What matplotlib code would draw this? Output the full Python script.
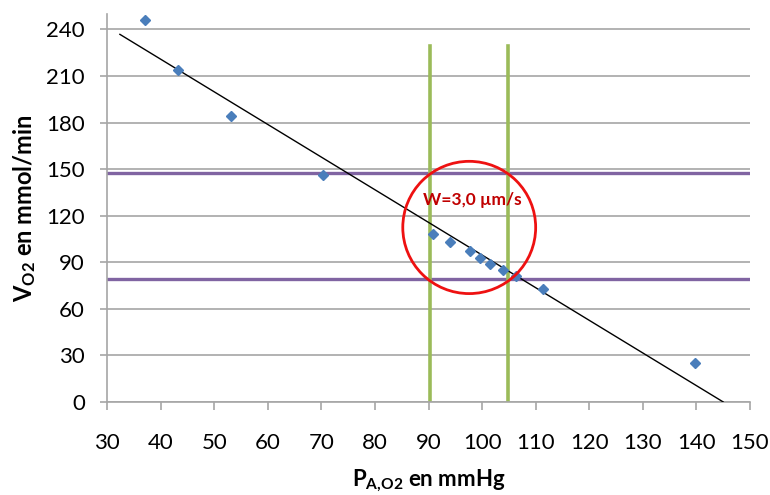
import matplotlib
matplotlib.use("Agg")
import matplotlib.pyplot as plt
from matplotlib.patches import Ellipse

plt.rcParams['font.family'] = ['Lato', 'DejaVu Sans']
plt.rcParams['mathtext.fontset'] = 'custom'
plt.rcParams['mathtext.rm'] = 'Lato'
plt.rcParams['mathtext.bf'] = 'Lato:bold'
plt.rcParams['mathtext.it'] = 'Lato:italic'

# data
pao2 = [37.1, 43.2, 53.1, 70.3, 90.8, 94.0, 97.7, 99.6, 101.5, 103.9, 106.3, 111.3, 139.7]
vo2 = [246, 214, 184.5, 146, 108.4, 103, 97, 93, 89, 85, 81, 73, 25]
trend_x = [32.4, 145.0]
trend_y = [236.8, 0.0]
hlines_y = [147.5, 79.4]
vlines_x = [90.3, 104.8]
vline_top = 229
circle_center = (97.6, 112.4)
circle_size = (24.8, 85.2)
annot_text = "W=3,0 µm/s"
xticks = list(range(30, 151, 10))
yticks = list(range(0, 241, 30))

fig = plt.figure(figsize=(7.7, 4.95), dpi=100)
ax = fig.add_axes([0.139, 0.188, 0.835, 0.784])
ax.set_xlim(30, 150)
ax.set_ylim(0, 250)

ax.set_yticks(yticks)
ax.set_xticks(xticks)
ax.yaxis.grid(True, color='#a6a6a6', linewidth=1.2)
ax.set_axisbelow(True)
for s in ['top', 'right']:
    ax.spines[s].set_visible(False)
for s in ['left', 'bottom']:
    ax.spines[s].set_color('#a6a6a6')
    ax.spines[s].set_linewidth(1.2)
ax.tick_params(axis='x', direction='out', length=5.5, width=1.2, color='#a6a6a6', pad=17, labelsize=16)
ax.tick_params(axis='y', direction='out', length=5, width=1.2, color='#a6a6a6', pad=11, labelsize=16)

for y in hlines_y:
    ax.axhline(y, color='#8064a2', linewidth=2.4, zorder=2)
for x in vlines_x:
    ax.plot([x, x], [0, vline_top], color='#9bbb59', linewidth=2.6, zorder=2)

ax.plot(trend_x, trend_y, color='black', linewidth=1.0, zorder=3)
ax.plot(pao2, vo2, linestyle='none', marker='D', markersize=5, color='#4a7ebb', zorder=4)

ax.add_patch(Ellipse(circle_center, circle_size[0], circle_size[1], fill=False,
                     edgecolor='#ee1111', linewidth=2.0, zorder=5))
ax.text(98.1, 130, annot_text, color='#c00000', fontsize=12.5, fontweight='bold',
        ha='center', va='center', zorder=6)

ax.set_ylabel(r"$\mathbf{V}_{\mathbf{O2}}$ en mmol/min", fontsize=17, fontweight='bold', labelpad=6)
ax.set_xlabel(r"$\mathbf{P}_{\mathbf{A{,}O2}}$ en mmHg", fontsize=16, fontweight='bold', labelpad=10)

fig.savefig("out.png", dpi=100)
